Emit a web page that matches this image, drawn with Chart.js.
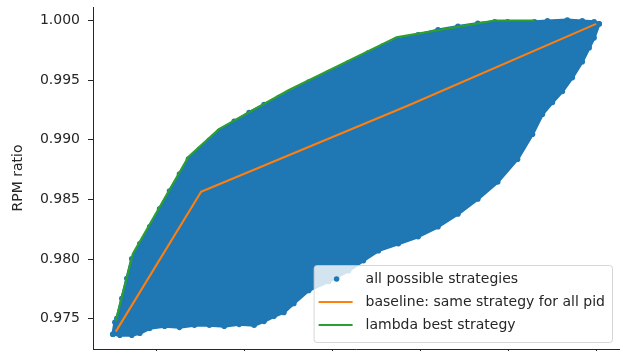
<!DOCTYPE html>
<html>
<head>
<meta charset="utf-8">
<script src="https://cdn.jsdelivr.net/npm/chart.js@4.4.0/dist/chart.umd.min.js"></script>
<style>
  html, body { margin: 0; padding: 0; background: #ffffff; }
  #wrap { width: 623px; height: 353px; position: relative; }
</style>
</head>
<body>
<div id="wrap"><canvas id="chart"></canvas></div>
<script>
// Tick values
const yTicks = [0.975, 0.980, 0.985, 0.990, 0.995, 1.000];
const xTicks = [0.5, 0.6, 0.7, 0.8, 0.9, 1.0];

// Series labels
const seriesLabels = [
  'all possible strategies',
  'baseline: same strategy for all pid',
  'lambda best strategy'
];

// Outline of the cloud of all possible strategies (upper edge, left to right)
const cloudTopX = [0.4502, 0.4525, 0.4548, 0.4604, 0.4661, 0.4717, 0.4808, 0.4921, 0.5034, 0.5147,
                   0.5260, 0.5362, 0.5487, 0.5600, 0.5713, 0.5882, 0.6052, 0.6222, 0.6391, 0.6505,
                   0.6731, 0.6957, 0.7183, 0.7410, 0.7579, 0.7726, 0.7975, 0.8201, 0.8428, 0.8654,
                   0.8846, 0.8993, 0.9299, 0.9446, 0.9672, 0.9842, 0.9977, 1.0034];
const cloudTopY = [0.97371, 0.97471, 0.97504, 0.97671, 0.97838, 0.98004, 0.98129, 0.98271, 0.98421, 0.98571,
                   0.98713, 0.98838, 0.98921, 0.98996, 0.99071, 0.99154, 0.99229, 0.99296, 0.99354, 0.99396,
                   0.99483, 0.99563, 0.99646, 0.99729, 0.99788, 0.99838, 0.99879, 0.99921, 0.99950, 0.99975,
                   0.99988, 0.99988, 0.99988, 0.99996, 1.00004, 0.99996, 0.99988, 0.99971];

// Outline of the cloud (lower edge, left to right)
const cloudBottomX = [0.4502, 0.4582, 0.4717, 0.4808, 0.4921, 0.5091, 0.5260, 0.5430, 0.5600, 0.5769,
                      0.5939, 0.6109, 0.6222, 0.6335, 0.6448, 0.6561, 0.6731, 0.6957, 0.7183, 0.7353,
                      0.7523, 0.7749, 0.7975, 0.8201, 0.8428, 0.8654, 0.8880, 0.9106, 0.9276, 0.9389,
                      0.9502, 0.9615, 0.9729, 0.9842, 0.9921, 0.9977, 1.0034];
const cloudBottomY = [0.97371, 0.97363, 0.97363, 0.97379, 0.97421, 0.97438, 0.97429, 0.97446, 0.97446, 0.97438,
                      0.97454, 0.97446, 0.97479, 0.97521, 0.97554, 0.97629, 0.97738, 0.97813, 0.97904, 0.97988,
                      0.98071, 0.98129, 0.98188, 0.98271, 0.98379, 0.98504, 0.98646, 0.98838, 0.99046, 0.99213,
                      0.99313, 0.99404, 0.99521, 0.99654, 0.99771, 0.99854, 0.99971];

// Baseline: same strategy for all pid
const baselineX = [0.4535, 0.5506, 0.7862, 1.0000];
const baselineY = [0.97393, 0.98565, 0.99287, 0.99971];

// Lambda best strategy
const bestX = [0.4535, 0.4729, 0.5362, 0.5713, 0.6505, 0.7726, 0.8846, 0.9299];
const bestY = [0.97483, 0.98046, 0.98858, 0.99092, 0.99417, 0.99858, 1.00000, 1.00000];

const BLUE = '#1f77b4', ORANGE = '#ff7f0e', GREEN = '#2ca02c', INK = '#262626';

const toPoints = (xs, ys) => xs.map((x, i) => ({ x: x, y: ys[i] }));

// Legend box drawn inside the plot area, lower right
const insetLegend = {
  id: 'insetLegend',
  afterDraw(chart) {
    const { ctx, chartArea } = chart;
    const items = chart.data.datasets.filter(d => d.legendKind);
    ctx.save();
    ctx.font = '14px "DejaVu Sans"';
    const textW = Math.max(...items.map(d => ctx.measureText(d.label).width));
    const right = chartArea.right - 7;
    const bottom = chartArea.bottom - 7;
    const rowH = 23;
    const textX = right - 7 - textW;
    const left = textX - 52;
    const top = bottom - 77;
    ctx.beginPath();
    ctx.roundRect(left + 0.5, top + 0.5, right - left, bottom - top, 3);
    ctx.fillStyle = 'rgba(255,255,255,0.8)';
    ctx.fill();
    ctx.strokeStyle = 'rgba(204,204,204,0.8)';
    ctx.lineWidth = 1;
    ctx.stroke();
    items.forEach((d, i) => {
      const cy = top + 14 + i * rowH;
      if (d.legendKind === 'dot') {
        ctx.beginPath();
        ctx.arc(textX - 29, cy, 2.8, 0, Math.PI * 2);
        ctx.fillStyle = d.backgroundColor;
        ctx.fill();
      } else {
        ctx.beginPath();
        ctx.moveTo(textX - 47, cy);
        ctx.lineTo(textX - 13, cy);
        ctx.strokeStyle = d.borderColor;
        ctx.lineWidth = 2.1;
        ctx.stroke();
      }
      ctx.fillStyle = INK;
      ctx.textBaseline = 'middle';
      ctx.textAlign = 'left';
      ctx.fillText(d.label, textX, cy);
    });
    ctx.restore();
  }
};

Chart.defaults.font.family = '"DejaVu Sans", sans-serif';
Chart.defaults.font.size = 14;
Chart.defaults.color = INK;

new Chart(document.getElementById('chart'), {
  type: 'scatter',
  data: {
    datasets: [
      {
        label: seriesLabels[0],
        legendKind: 'dot',
        data: toPoints(cloudTopX, cloudTopY),
        showLine: true,
        borderColor: BLUE,
        backgroundColor: BLUE,
        borderWidth: 3,
        borderJoinStyle: 'round',
        pointRadius: 2.8,
        pointBorderWidth: 0,
        pointBackgroundColor: BLUE,
        fill: '+1',
        order: 3
      },
      {
        label: '',
        data: toPoints(cloudBottomX, cloudBottomY),
        showLine: true,
        borderColor: BLUE,
        backgroundColor: BLUE,
        borderWidth: 3,
        borderJoinStyle: 'round',
        pointRadius: 2.8,
        pointBorderWidth: 0,
        pointBackgroundColor: BLUE,
        fill: false,
        order: 4
      },
      {
        label: seriesLabels[1],
        legendKind: 'line',
        data: toPoints(baselineX, baselineY),
        showLine: true,
        borderColor: ORANGE,
        backgroundColor: ORANGE,
        borderWidth: 2.1,
        borderJoinStyle: 'round',
        pointRadius: 0,
        fill: false,
        order: 2
      },
      {
        label: seriesLabels[2],
        legendKind: 'line',
        data: toPoints(bestX, bestY),
        showLine: true,
        borderColor: GREEN,
        backgroundColor: GREEN,
        borderWidth: 2.1,
        borderJoinStyle: 'round',
        pointRadius: 0,
        fill: false,
        order: 1
      }
    ]
  },
  options: {
    responsive: true,
    maintainAspectRatio: false,
    animation: false,
    events: [],
    layout: { padding: { top: 7, right: 1, bottom: 0, left: 0 } },
    plugins: { legend: { display: false }, tooltip: { enabled: false } },
    scales: {
      x: {
        type: 'linear',
        min: 0.4276,
        max: 1.0260,
        afterBuildTicks: s => { s.ticks = xTicks.map(v => ({ value: v })); },
        ticks: { display: false },
        grid: { drawOnChartArea: false, drawTicks: true, tickLength: 2, tickColor: INK, tickWidth: 1 },
        border: { display: true, color: INK, width: 1 }
      },
      y: {
        type: 'linear',
        min: 0.972475,
        max: 1.001125,
        afterBuildTicks: s => { s.ticks = yTicks.map(v => ({ value: v })); },
        afterFit: s => { s.width = 93; s.paddingTop = 0; s.paddingBottom = 0; },
        ticks: { padding: 8, color: INK, font: { size: 14 }, callback: v => Number(v).toFixed(3) },
        grid: { drawOnChartArea: false, drawTicks: true, tickLength: 5, tickColor: INK, tickWidth: 1 },
        border: { display: true, color: INK, width: 1 },
        title: { display: true, text: 'RPM ratio', color: INK, font: { size: 14 }, padding: { top: 10, bottom: 0 } }
      }
    }
  },
  plugins: [insetLegend]
});
</script>
</body>
</html>
